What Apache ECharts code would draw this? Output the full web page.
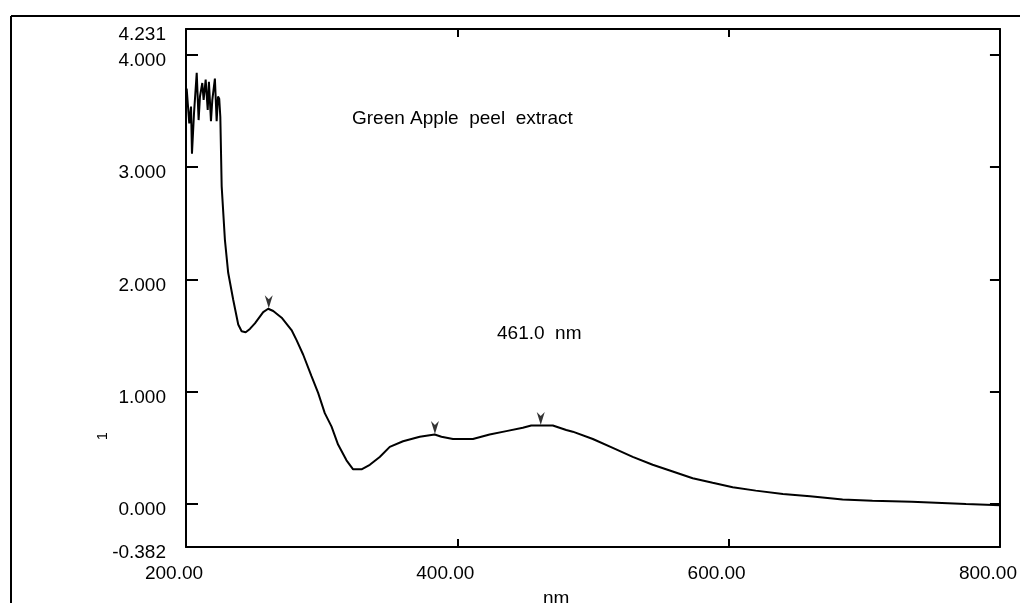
<!DOCTYPE html>
<html>
<head>
<meta charset="utf-8">
<script src="https://cdn.jsdelivr.net/npm/echarts@6/dist/echarts.min.js"></script>
<style>
  html, body { margin: 0; padding: 0; background: #fff; }
  #chart { width: 1020px; height: 603px; }
</style>
</head>
<body>
<div id="chart"></div>
<script>
// wavelength (nm) and absorbance
const wavelength = [
  200.5, 202.4, 203.7, 204.4, 205.9, 207.9, 209.3, 210.3, 212.0, 213.0,
  214.5, 216.0, 216.9, 218.4, 219.4, 221.3, 222.6, 223.6, 224.5, 225.3,
  226.3, 228.7, 231.1, 234.8, 238.5, 241.0, 244.0, 247.1, 250.8, 256.9,
  260.6, 264.3, 270.5, 277.8, 281.5, 286.4, 292.5, 297.4, 302.3, 307.3,
  312.1, 318.3, 323.2, 329.4, 335.5, 342.8, 350.2, 360.0, 372.3, 383.3,
  388.3, 396.8, 411.5, 423.8, 436.1, 448.3, 454.5, 461.9, 470.4, 480.3,
  485.1, 499.9, 514.6, 529.3, 544.0, 558.8, 573.5, 588.2, 603.0, 620.0,
  640.0, 660.0, 684.0, 706.0, 735.0, 775.0, 800.0
];
const absorbance = [
  3.70, 3.39, 3.54, 3.12, 3.48, 3.84, 3.42, 3.63, 3.75, 3.60,
  3.78, 3.51, 3.76, 3.41, 3.60, 3.79, 3.41, 3.63, 3.61, 3.45,
  2.83, 2.35, 2.06, 1.82, 1.60, 1.54, 1.53, 1.56, 1.61, 1.71,
  1.74, 1.72, 1.66, 1.55, 1.46, 1.33, 1.14, 0.99, 0.81, 0.69,
  0.53, 0.39, 0.31, 0.31, 0.35, 0.42, 0.51, 0.56, 0.60, 0.62,
  0.60, 0.58, 0.58, 0.62, 0.65, 0.68, 0.70, 0.70, 0.70, 0.66,
  0.645, 0.58, 0.50, 0.42, 0.35, 0.29, 0.23, 0.19, 0.15, 0.12,
  0.09, 0.07, 0.04, 0.03, 0.02, 0.00, -0.01
];
// picked peaks (arrow marks)
const peakNm = [261.0, 383.5, 461.5];
const peakAbs = [1.74, 0.62, 0.70];

const yTicks = [0, 1, 2, 3, 4];
const yLabels = [-0.382, 0, 1, 2, 3, 4, 4.231];
const xTicks = [200, 400, 600, 800];
const xTopTicks = [400, 600];

const font = "Liberation Sans, Arial, sans-serif";
const arrow = "path://M0,0 L5,4 L10,0 L5,13 Z";

const chart = echarts.init(document.getElementById("chart"));
chart.setOption({
  animation: false,
  grid: { left: 186, right: 19, top: 29, bottom: 56 },
  xAxis: [
    {
      type: "value", min: 200, max: 800,
      axisLine: { onZero: false, lineStyle: { color: "#000", width: 2 } },
      axisTick: { inside: true, length: 8, customValues: xTicks, lineStyle: { color: "#000", width: 2 } },
      axisLabel: {
        customValues: xTicks, color: "#000", fontFamily: font, fontSize: 19,
        margin: 17, padding: [0, 24, 0, 0],
        formatter: (v) => v.toFixed(2),
      },
      splitLine: { show: false },
    },
    {
      type: "value", min: 200, max: 800, position: "top",
      axisLine: { onZero: false, lineStyle: { color: "#000", width: 2 } },
      axisTick: { inside: true, length: 8, customValues: xTopTicks, lineStyle: { color: "#000", width: 2 } },
      axisLabel: { show: false },
      splitLine: { show: false },
    },
  ],
  yAxis: [
    {
      type: "value", min: -0.382, max: 4.231,
      axisLine: { onZero: false, lineStyle: { color: "#000", width: 2 } },
      axisTick: { inside: true, length: 12, customValues: yTicks, lineStyle: { color: "#000", width: 2 } },
      axisLabel: {
        customValues: yLabels, color: "#000", fontFamily: font, fontSize: 19,
        margin: 20,
        formatter: (v) => "{a|" + v.toFixed(3) + "}",
        rich: { a: { fontFamily: font, fontSize: 19, color: "#000", padding: [12, 0, 0, 0] } },
      },
      splitLine: { show: false },
    },
    {
      type: "value", min: -0.382, max: 4.231, position: "right",
      axisLine: { onZero: false, lineStyle: { color: "#000", width: 2 } },
      axisTick: { inside: true, length: 10, customValues: yTicks, lineStyle: { color: "#000", width: 2 } },
      axisLabel: { show: false },
      splitLine: { show: false },
    },
  ],
  graphic: [
    // outer frame of the printout
    { type: "line", shape: { x1: 11, y1: 16, x2: 1020, y2: 16 }, style: { stroke: "#000", lineWidth: 2 } },
    { type: "line", shape: { x1: 11, y1: 16, x2: 11, y2: 603 }, style: { stroke: "#000", lineWidth: 2 } },
    { type: "text", left: 352, top: 109, style: { text: "Green Apple  peel  extract", fill: "#000", font: "19px " + font } },
    { type: "text", left: 497, top: 324, style: { text: "461.0  nm", fill: "#000", font: "19px " + font } },
    { type: "text", left: 543, top: 589, style: { text: "nm", fill: "#000", font: "19px " + font } },
    { type: "text", x: 96, y: 440, rotation: Math.PI / 2, style: { text: "1", fill: "#000", font: "14px " + font } },
  ],
  series: [
    {
      type: "line",
      data: wavelength.map((w, i) => [w, absorbance[i]]),
      symbol: "none",
      lineStyle: { color: "#000", width: 2 },
      z: 3,
    },
    {
      type: "scatter",
      data: peakNm.map((w, i) => [w, peakAbs[i]]),
      symbol: arrow,
      symbolSize: [8, 13],
      symbolOffset: [0, -7],
      itemStyle: { color: "#000" },
      z: 4,
    },
  ],
});
</script>
</body>
</html>
